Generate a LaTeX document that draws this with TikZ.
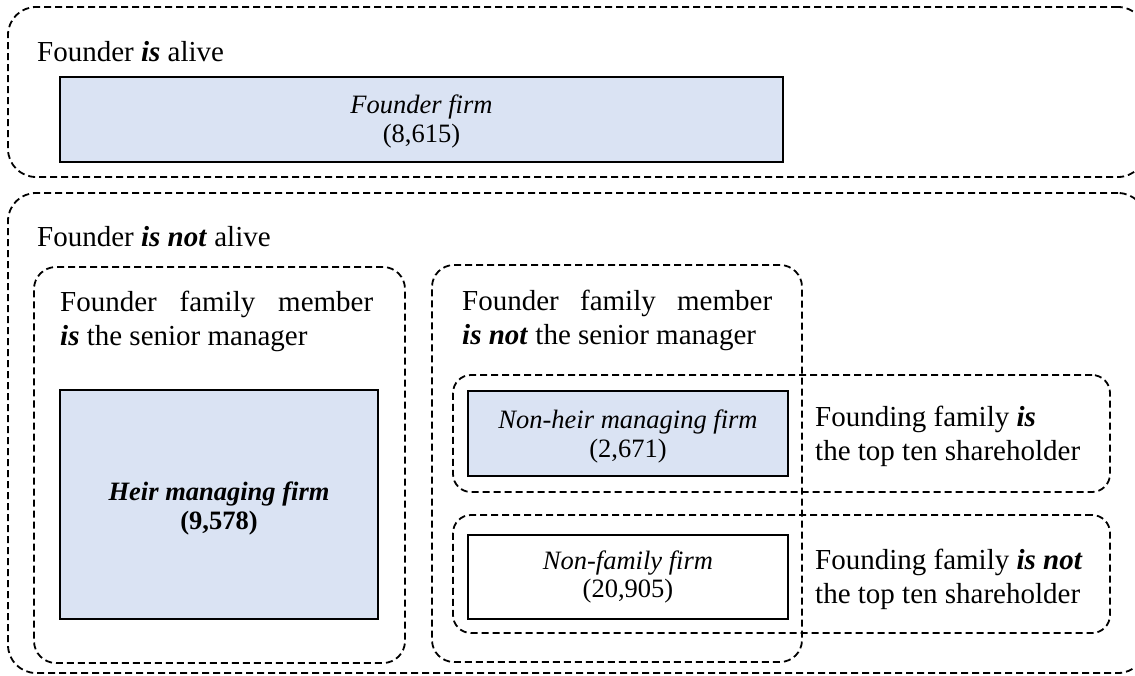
\documentclass[tikz,border=0pt]{standalone}
\usepackage{fontspec}
\setmainfont{Liberation Serif}
\usetikzlibrary{fit}
\definecolor{boxfill}{RGB}{218,227,243}
\newcommand{\bolditc}[1]{\textbf{\textit{#1}}}
\tikzset{
  zone/.style={draw=black, dash pattern=on 7pt off 4pt, line width=1.8pt,
               rounded corners=#1, inner sep=0pt},
  firm/.style={draw=black, line width=1.7pt, inner sep=0pt},
  firmtext/.style={align=center, inner sep=0pt,
               font=\fontsize{26.5}{28.5}\selectfont},
  label/.style={align=left, inner sep=0pt, anchor=west,
               font=\fontsize{29}{34}\selectfont},
}
\begin{document}
\begin{tikzpicture}[x=1pt,y=-1pt]
\useasboundingbox (0,0) rectangle (1135,675);
% dashed containers
\node[zone=28, fit={(8,7) (1146,177)}] (alive) {};
\node[zone=28, fit={(8,193) (1146,673)}] (dead) {};
\node[zone=22, fit={(34,267) (405,663)}] (heirzone) {};
\node[zone=22, fit={(432,265) (802,662)}] (nonheirzone) {};
\node[zone=18, fit={(453,375) (1110,492)}] (topten) {};
\node[zone=18, fit={(453,515) (1110,633)}] (nottopten) {};
% solid firm boxes
\node[firm, fill=boxfill, fit={(60,77) (783,162)}] (founder) {};
\node[firm, fill=boxfill, fit={(60,390) (378,619)}] (heir) {};
\node[firm, fill=boxfill, fit={(468,391) (788,476)}] (nonheir) {};
\node[firm, fill=white, fit={(468,535) (788,619)}] (nonfamily) {};
% firm texts
\node[firmtext] (foundert) at ([yshift=-2pt]founder.center) {\textit{Founder firm}\\(8,615)};
\node[firmtext] (heirt) at ([yshift=-4pt]heir.center) {\bolditc{Heir managing firm}\\\textbf{(9,578)}};
\node[firmtext] (nonheirt) at ([yshift=-3pt]nonheir.center) {\textit{Non-heir managing firm}\\(2,671)};
\node[firmtext] (nonfamilyt) at (nonfamily.center) {\textit{Non-family firm}\\(20,905)};
% labels
\node[label] (alivel) at (37,52) {Founder \bolditc{is} alive};
\node[label] (deadl) at (37,237) {Founder \bolditc{is not} alive};
\node[label] (heirl) at (60,321) {\makebox[313pt][s]{Founder family member}\\\bolditc{is} the senior manager};
\node[label] (nonheirl) at (462,320) {\makebox[310pt][s]{Founder family member}\\\bolditc{is not} the senior manager};
\node[label] (toptenl) at (815,436) {Founding family \bolditc{is}\\the top ten shareholder};
\node[label] (nottoptenl) at (815,579) {Founding family \bolditc{is not}\\the top ten shareholder};
\end{tikzpicture}
\end{document}
